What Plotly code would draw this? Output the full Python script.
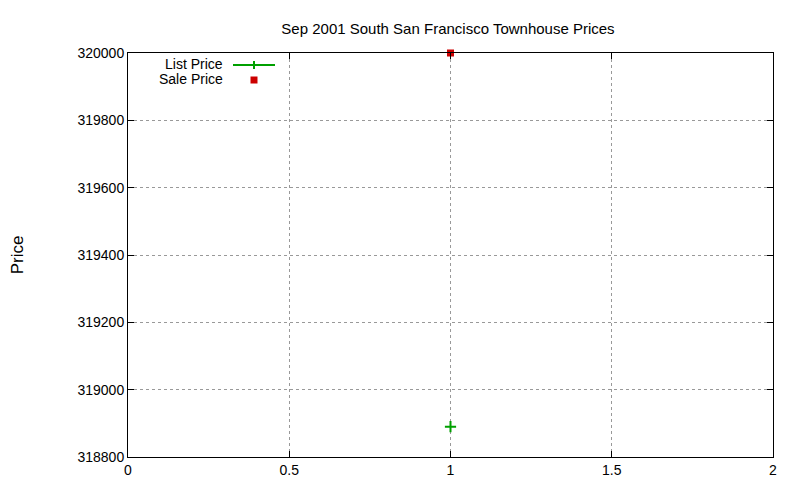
import plotly.graph_objects as go

x_list = [1]
list_price = [318890]
x_sale = [1]
sale_price = [320000]
title = "Sep 2001 South San Francisco Townhouse Prices"

fig = go.Figure()
fig.add_trace(go.Scatter(x=x_list, y=list_price, mode="markers", name="List Price", cliponaxis=False,
    marker=dict(symbol="cross-thin", size=8, line=dict(color="#00a000", width=2))))
fig.add_trace(go.Scatter(x=x_sale, y=sale_price, mode="markers", name="Sale Price", cliponaxis=False,
    marker=dict(symbol="square", size=7, color="#cc0000")))

ax = dict(showline=True, linecolor="black", mirror="ticks", ticks="inside", ticklen=6,
          tickcolor="black", showgrid=True, gridcolor="#999999", griddash="dot",
          zeroline=False, automargin=False, tickfont=dict(size=14, color="black"))
fig.update_xaxes(range=[0, 2], dtick=0.5, **ax)
fig.update_yaxes(range=[318800, 320000], dtick=200, tickformat="d", **ax)

def py(p):
    return (449 - p) / 404
def px(p):
    return (p - 120) / 645

fig.add_annotation(xref="paper", yref="paper", x=px(217), y=py(56), text="List Price",
    showarrow=False, xanchor="right", yanchor="middle", font=dict(size=14, color="black"))
fig.add_annotation(xref="paper", yref="paper", x=px(217), y=py(71), text="Sale Price",
    showarrow=False, xanchor="right", yanchor="middle", font=dict(size=14, color="black"))
fig.add_shape(type="line", xref="paper", yref="paper", x0=px(225), x1=px(267),
    y0=py(57), y1=py(57), line=dict(color="#00a000", width=2))
fig.add_shape(type="line", xref="paper", yref="paper", x0=px(246), x1=px(246),
    y0=py(53), y1=py(61), line=dict(color="#00a000", width=2))
fig.add_shape(type="rect", xref="paper", yref="paper", x0=px(242.5), x1=px(249.5),
    y0=py(68.5), y1=py(75.5), line=dict(width=0), fillcolor="#cc0000")

fig.update_layout(width=800, height=480, showlegend=False, plot_bgcolor="white", paper_bgcolor="white",
    margin=dict(l=120, r=35, t=45, b=31, autoexpand=False),
    font=dict(family="Liberation Sans, Arial", size=14, color="black"),
    title=dict(text=title, x=440/800, xanchor="center", y=1-21/480, yanchor="middle",
               font=dict(size=15), automargin=False),
    yaxis_title=dict(text="Price", standoff=50))
fig.write_html("out.html")
